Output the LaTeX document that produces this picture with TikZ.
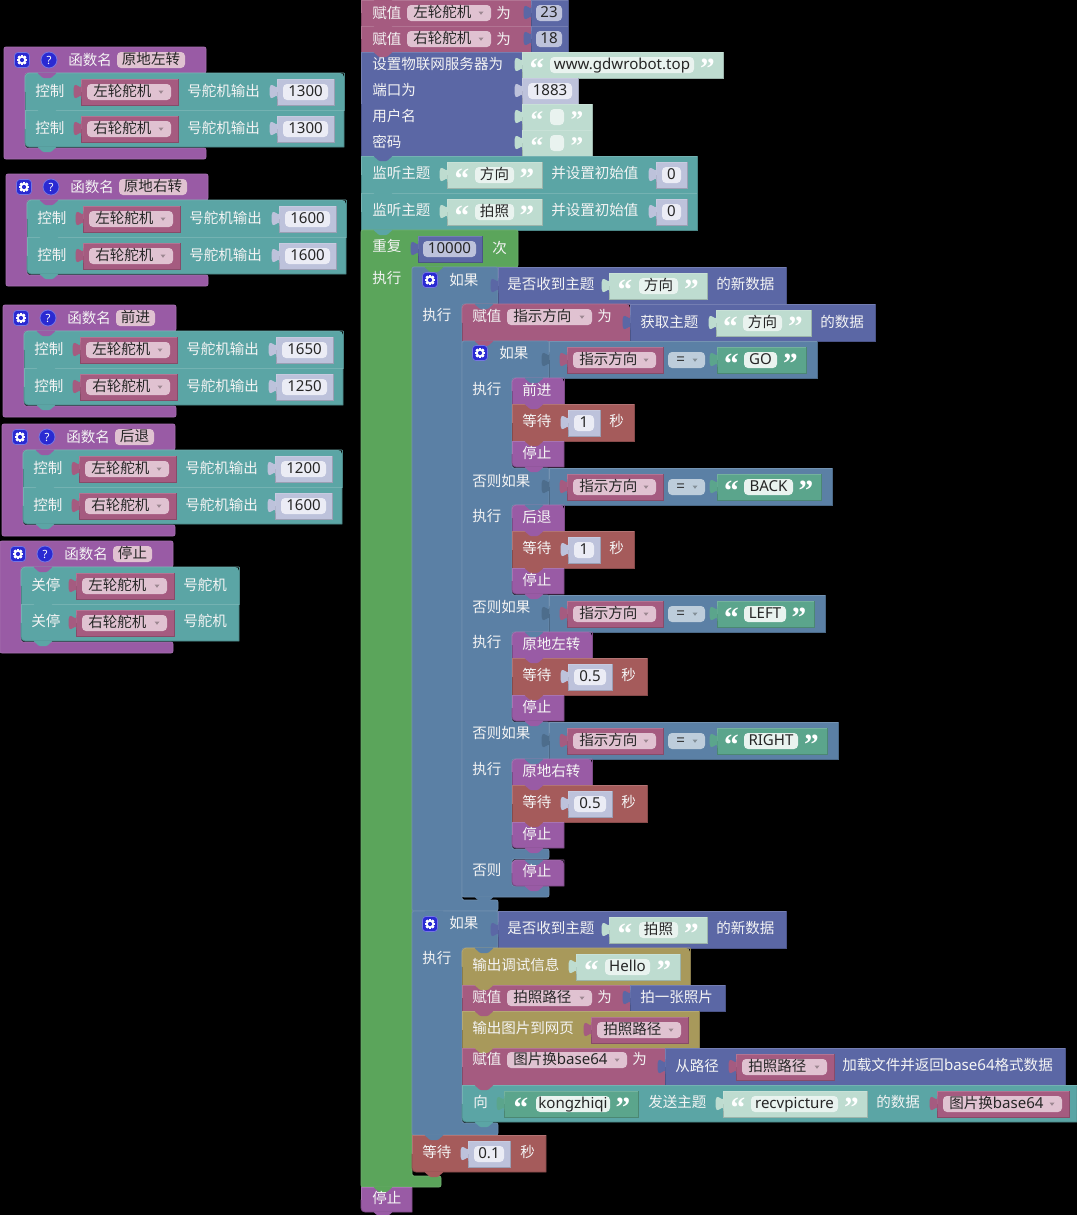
\documentclass[tikz,border=0pt]{standalone}
\usepackage{fontspec}
\newfontfamily\cjf{Noto Sans CJK SC}
\newfontfamily\latf{Noto Sans}
\newfontfamily\quof{Liberation Serif}[BoldFont={Liberation Serif Bold}]
\newcommand\lt[1]{{\latf\fontsize{11.3pt}{12pt}\selectfont\raisebox{.5pt}{#1}}}
\definecolor{cteal}{HTML}{5BA5A5}
\definecolor{cpur}{HTML}{995BA5}
\definecolor{cros}{HTML}{A55B80}
\definecolor{cper}{HTML}{5B67A5}
\definecolor{cste}{HTML}{5B80A5}
\definecolor{cgrn}{HTML}{5BA55B}
\definecolor{cbrn}{HTML}{A55B5B}
\definecolor{coli}{HTML}{A8995B}
\definecolor{cstg}{HTML}{5BA58C}
\definecolor{pstr}{HTML}{BEDCD0}
\definecolor{pnum}{HTML}{BDC2DB}
\definecolor{fvar}{HTML}{E0C2D1}
\definecolor{fstr}{HTML}{E9F3EF}
\definecolor{fnum}{HTML}{EBECF5}
\definecolor{fste}{HTML}{BDCDDB}
\definecolor{ftxt}{HTML}{262626}
\definecolor{labc}{HTML}{F4F4F4}
\definecolor{cblu}{HTML}{2A2AD2}
\newcounter{nd}
\def\qsz{22pt}
\def\qbl{26}
\tikzset{
  lab/.style={anchor=west,inner sep=0pt,text=labc,font=\cjf\fontsize{10.9pt}{12pt}\selectfont,text height=9.6pt,text depth=2.4pt},
  quo/.style={anchor=base,inner sep=0pt,text=white,font=\quof\bfseries\fontsize{\qsz}{23pt}\selectfont}
}
\newcommand\tx[3]{\stepcounter{nd}\node[lab] (n\thend) at (#1,#2+1) {#3};}
\newcommand\fld[5]{\fill[#4,rounded corners=3pt] (#1,#3-8) rectangle (#2,#3+8);
  \stepcounter{nd}\node[lab,anchor=center,text=ftxt] (n\thend) at ({(#1+#2)/2},#3) {#5};}
\newcommand\ddf[5]{\fill[#4,rounded corners=3pt] (#1,#3-8) rectangle (#2,#3+8);
  \stepcounter{nd}\node[lab,text=ftxt] (n\thend) at (#1+6,#3) {#5};
  \fill[#4!70!black] (#2-12.5,#3-1.5) -- (#2-7.5,#3-1.5) -- (#2-10,#3+1.8) -- cycle;}
\newcommand\vtab[3]{\fill[#3] (#1+.5,#2+5) .. controls (#1+.5,#2+15) and (#1-7.5,#2-3) .. (#1-7.5,#2+12.5) .. controls (#1-7.5,#2+28) and (#1+.5,#2+10) .. (#1+.5,#2+20) -- cycle;}
\newcommand\rcx[7]{%
  \fill[#5] (#1,{(#2+#4)/2}) [rounded corners=#6] -- (#1,#2) -- (#3,#2) [sharp corners] -- (#3,#4) [rounded corners=#7] -- (#1,#4) -- cycle;
  \draw[#5!82!black,line width=.6pt] (#3,#2) -- (#3,#4) [rounded corners=#7] -- (#1,#4) -- (#1,{(#2+#4)/2});
  \draw[#5!85!white,line width=.6pt] (#1,{(#2+#4)/2}) [rounded corners=#6] -- (#1,#2) -- (#3,#2);}
\newcommand\notchm[3]{\fill[#3,rounded corners=.8pt] (#1+12,#2-.5) -- (#1+18,#2+5) -- (#1+26,#2+5) -- (#1+32,#2-.5) -- cycle;}
% x1 y1 x2 y2 col prev rtl rbl
\newcommand\blk[8]{\rcx{#1}{#2}{#3}{#4}{#5}{#7}{#8}\notchm{#1}{#2}{#6}\notchm{#1}{#4}{#5}}
\newcommand\valb[4]{\rcx{#1}{#3}{#2}{#3+26}{#4}{0pt}{0pt}\vtab{#1}{#3}{#4}}
% x1 x2 y text : number block
\newcommand\numb[4]{\valb{#1}{#2}{#3}{pnum}\fld{#1+6}{#2-6}{#3+13}{fnum}{\lt{#4}}}
% x1 x2 y text : variable block
\newcommand\varb[4]{\valb{#1}{#2}{#3}{cros}\ddf{#1+6}{#2-7}{#3+13}{fvar}{#4}}
% x1 x2 fx1 fx2 y text col
\newcommand\strg[7]{\valb{#1}{#2}{#5}{#7}\fld{#3}{#4}{#5+13}{fstr}{#6}
  \stepcounter{nd}\node[quo] (n\thend) at ({(#1+#3)/2+1},#5+\qbl) {“};
  \stepcounter{nd}\node[quo] (n\thend) at ({(#2+#4)/2-1},#5+\qbl) {”};}
\newcommand\gear[2]{\fill[cblu,rounded corners=2.5pt,draw=cblu!65!white,line width=.5pt] (#1-7.5,#2-7.5) rectangle (#1+7.5,#2+7.5);
  \foreach \aa in {0,45,...,315}{\fill[white,rotate around={\aa:(#1,#2)}] (#1-1.1,#2-5) rectangle (#1+1.1,#2+5);}
  \fill[white] (#1,#2) circle[radius=4.2];\fill[cblu] (#1,#2) circle[radius=2.1];}
\newcommand\qmark[2]{\fill[cblu,draw=cblu!65!white,line width=.6pt] (#1,#2) circle[radius=8];
  \stepcounter{nd}\node[inner sep=0pt,text=white,font=\latf\bfseries\fontsize{8.5pt}{9pt}\selectfont] (n\thend) at (#1,#2) {?};}
\newcommand\poly[2]{\fill[#1,rounded corners=1.5pt] #2 -- cycle;\draw[#1!88!white,line width=.6pt,rounded corners=1.5pt] #2 -- cycle;}
% x y right fieldtext
\newcommand\proc[4]{\poly{cpur}{(#1,#2) -- (#3,#2) -- (#3,#2+26) -- (#1+21,#2+26) -- (#1+21,#2+101) -- (#3,#2+101) -- (#3,#2+112) -- (#1,#2+112)}
  \gear{#1+18}{#2+13}\qmark{#1+45}{#2+13}\tx{#1+64}{#2+13}{函数名}\fld{#1+113}{#3-21}{#2+13}{fvar}{#4}}
% x y name val prev rt rb
\newcommand\ctrl[7]{\blk{#1}{#2}{#1+319}{#2+37}{cteal}{#5}{#6}{#7}\tx{#1+10}{#2+18}{控制}\varb{#1+56}{#1+153}{#2+6}{#3}\tx{#1+162}{#2+18}{号舵机输出}\numb{#1+252}{#1+309}{#2+6}{#4}}
% y x2 sx2 fx2 text
\newcommand\cmpr[5]{\rcx{549}{#1}{#2}{#1+37}{cste}{0pt}{0pt}\vtab{549}{#1+6}{cste!85!black}\varb{567}{663}{#1+6}{指示方向}
  \ddf{668}{705}{#1+19}{fste}{\,=}\strg{717}{#3}{744}{#4}{#1+6}{\lt{#5}}{cstg}}
% y right numright fieldright val
\newcommand\waitm[5]{\blk{512}{#1}{#2}{#1+37}{cbrn}{cpur}{0pt}{0pt}\tx{522}{#1+17}{等待}\numb{568}{#3}{#1+6}{#5}\tx{#3+9}{#1+17}{秒}}
\newcommand\stopb[3]{\blk{#1}{#2}{#1+52}{#2+26}{cpur}{#3}{0pt}{3pt}\tx{#1+10}{#2+12}{停止}}
\begin{document}
\begin{tikzpicture}[x=0.75pt,y=-0.75pt]
\useasboundingbox (0,0) rectangle (1077,1215);
\fill[black] (0,0) rectangle (1077,1215);
% ---- left procedures
\proc{4}{47}{206}{原地左转}
\ctrl{25}{73}{左轮舵机}{1300}{cpur}{3pt}{0pt}
\ctrl{25}{110}{右轮舵机}{1300}{cteal}{0pt}{3pt}
\proc{6}{174}{208}{原地右转}
\ctrl{27}{200}{左轮舵机}{1600}{cpur}{3pt}{0pt}
\ctrl{27}{237}{右轮舵机}{1600}{cteal}{0pt}{3pt}
\proc{3}{305}{176}{前进}
\ctrl{24}{331}{左轮舵机}{1650}{cpur}{3pt}{0pt}
\ctrl{24}{368}{右轮舵机}{1250}{cteal}{0pt}{3pt}
\proc{2}{424}{175}{后退}
\ctrl{23}{450}{左轮舵机}{1200}{cpur}{3pt}{0pt}
\ctrl{23}{487}{右轮舵机}{1600}{cteal}{0pt}{3pt}
\proc{0}{541}{173}{停止}
\blk{21}{567}{239}{604}{cteal}{cpur}{3pt}{0pt}\tx{31}{585}{关停}\varb{76}{174}{573}{左轮舵机}\tx{183}{585}{号舵机}
\blk{21}{604}{239}{641}{cteal}{cteal}{0pt}{3pt}\tx{31}{621}{关停}\varb{76}{174}{610}{右轮舵机}\tx{183}{621}{号舵机}
% ---- main stack
\blk{361}{0}{531}{26}{cros}{cros}{0pt}{0pt}\tx{372}{13}{赋值}\ddf{407}{491}{13}{fvar}{左轮舵机}\tx{496}{13}{为}
\valb{531}{568}{0}{cper}\fld{536}{562}{13}{pnum}{\lt{23}}
\blk{361}{26}{531}{52}{cros}{cros}{0pt}{0pt}\tx{372}{39}{赋值}\ddf{407}{491}{39}{fvar}{右轮舵机}\tx{496}{39}{为}
\valb{531}{568}{26}{cper}\fld{536}{562}{39}{pnum}{\lt{18}}
\blk{361}{52}{522}{156}{cper}{cros}{0pt}{0pt}
\tx{372}{64}{设置物联网服务器为}\tx{372}{90}{端口为}\tx{372}{116}{用户名}\tx{372}{142}{密码}
\strg{522}{723}{550}{694}{52}{\lt{www.gdwrobot.top}}{pstr}
\numb{522}{578}{78}{1883}
\def\qsz{19pt}\def\qbl{24.5}
\strg{522}{592}{550}{564}{104}{}{pstr}
\strg{522}{592}{550}{564}{130}{}{pstr}
\def\qsz{22pt}\def\qbl{26}
\blk{361}{156}{697}{193}{cteal}{cper}{0pt}{0pt}\tx{372}{173}{监听主题}\strg{447}{542}{475}{514}{162}{方向}{pstr}\tx{551}{173}{并设置初始值}\numb{656}{687}{162}{0}
\blk{361}{193}{697}{230}{cteal}{cteal}{0pt}{0pt}\tx{372}{210}{监听主题}\strg{447}{542}{475}{514}{199}{拍照}{pstr}\tx{551}{210}{并设置初始值}\numb{656}{687}{199}{0}
% repeat
\poly{cgrn}{(361,230) -- (518,230) -- (518,267) -- (412,267) -- (412,1176) -- (441,1176) -- (441,1187) -- (361,1187)}
\notchm{361}{230}{cteal}
\tx{372}{246}{重复}\valb{418}{482}{236}{cper}\fld{423}{476}{249}{pnum}{\lt{10000}}\tx{492}{248}{次}\tx{372}{278}{执行}
% if 1
\poly{cste}{(412,267) -- (498,267) -- (498,304) -- (462,304) -- (462,900) -- (498,900) -- (498,911) -- (412,911)}
\notchm{412}{267}{cgrn}
\gear{430}{280}\tx{449}{280}{如果}\tx{422}{315}{执行}
\rcx{498}{267}{786}{304}{cper}{0pt}{0pt}\vtab{498}{273}{cper}
\tx{507}{284}{是否收到主题}\strg{609}{707}{639}{678}{273}{方向}{pstr}\tx{716}{284}{的新数据}
% assign direction
\blk{462}{304}{630}{341}{cros}{cste}{3pt}{0pt}\tx{472}{316}{赋值}\ddf{507}{592}{317}{fvar}{指示方向}\tx{597}{316}{为}
\rcx{630}{304}{875}{341}{cper}{0pt}{0pt}\vtab{630}{310}{cper}
\tx{640}{322}{获取主题}\strg{716}{811}{743}{782}{310}{方向}{pstr}\tx{820}{322}{的数据}
% inner if
\poly{cste}{(462,341) -- (549,341) -- (549,378) -- (512,378) -- (512,468) -- (549,468) -- (549,505) -- (512,505) -- (512,595) -- (549,595) -- (549,632) -- (512,632) -- (512,722) -- (549,722) -- (549,759) -- (512,759) -- (512,849) -- (549,849) -- (549,859) -- (512,859) -- (512,886) -- (549,886) -- (549,897) -- (462,897)}
\notchm{462}{341}{cros}\notchm{462}{897}{cste}
\gear{480}{353}\tx{499}{353}{如果}
\cmpr{341}{817}{806}{777}{GO}
\tx{472}{389}{执行}
\blk{512}{378}{564}{404}{cpur}{cste}{3pt}{0pt}\tx{522}{390}{前进}
\waitm{404}{634}{600}{594}{1}
\stopb{512}{441}{cbrn}
\tx{472}{481}{否则如果}
\cmpr{468}{832}{821}{793}{BACK}
\tx{472}{516}{执行}
\blk{512}{505}{564}{531}{cpur}{cste}{3pt}{0pt}\tx{522}{517}{后退}
\waitm{531}{634}{600}{594}{1}
\stopb{512}{568}{cbrn}
\tx{472}{607}{否则如果}
\cmpr{595}{825}{814}{786}{LEFT}
\tx{472}{642}{执行}
\blk{512}{632}{592}{658}{cpur}{cste}{3pt}{0pt}\tx{522}{644}{原地左转}
\waitm{658}{647}{612}{606}{0.5}
\stopb{512}{695}{cbrn}
\tx{472}{733}{否则如果}
\cmpr{722}{838}{827}{798}{RIGHT}
\tx{472}{769}{执行}
\blk{512}{759}{592}{785}{cpur}{cste}{3pt}{0pt}\tx{522}{771}{原地右转}
\waitm{785}{647}{612}{606}{0.5}
\stopb{512}{822}{cbrn}
\tx{472}{870}{否则}
\blk{512}{860}{564}{886}{cpur}{cste}{3pt}{3pt}\tx{522}{871}{停止}
% if 2
\poly{cste}{(412,911) -- (498,911) -- (498,948) -- (462,948) -- (462,1123) -- (498,1123) -- (498,1135) -- (412,1135)}
\notchm{412}{911}{cste}\notchm{412}{1135}{cste}
\gear{430}{924}\tx{449}{923}{如果}\tx{422}{958}{执行}
\rcx{498}{911}{786}{948}{cper}{0pt}{0pt}\vtab{498}{917}{cper}
\tx{507}{928}{是否收到主题}\strg{609}{707}{639}{678}{917}{拍照}{pstr}\tx{716}{928}{的新数据}
\blk{462}{948}{690}{985}{coli}{cste}{3pt}{0pt}\tx{472}{965}{输出调试信息}\strg{576}{680}{605}{650}{954}{\lt{Hello}}{pstr}
\blk{462}{985}{630}{1011}{cros}{coli}{0pt}{0pt}\tx{472}{997}{赋值}\ddf{507}{592}{998}{fvar}{拍照路径}\tx{597}{997}{为}
\rcx{630}{985}{725}{1011}{cper}{0pt}{0pt}\vtab{630}{985}{cper}\tx{640}{997}{拍一张照片}
\blk{462}{1011}{699}{1048}{coli}{cros}{0pt}{0pt}\tx{472}{1028}{输出图片到网页}\varb{591}{688}{1017}{拍照路径}
\blk{462}{1048}{665}{1085}{cros}{coli}{0pt}{0pt}\tx{472}{1059}{赋值}\ddf{507}{627}{1060}{fvar}{图片换{\lt{base64}}}\tx{632}{1059}{为}
\rcx{665}{1048}{1065}{1085}{cper}{0pt}{0pt}\vtab{665}{1054}{cper}
\tx{675}{1066}{从路径}\varb{736}{834}{1054}{拍照路径}\tx{842}{1065}{加载文件并返回{\lt{base64}}格式数据}
\blk{462}{1085}{1077}{1122}{cteal}{cros}{0pt}{3pt}\tx{473}{1102}{向}
\strg{504}{638}{536}{610}{1091}{\lt{kongzhiqi}}{cstg}\tx{648}{1102}{发送主题}
\strg{723}{867}{751}{838}{1091}{\lt{recvpicture}}{pstr}\tx{876}{1102}{的数据}
\varb{937}{1069}{1091}{图片换{\lt{base64}}}
% wait 0.1
\blk{412}{1135}{546}{1172}{cbrn}{cste}{0pt}{3pt}\tx{422}{1152}{等待}\numb{468}{510}{1141}{0.1}\tx{520}{1152}{秒}
% final stop
\blk{361}{1187}{412}{1212}{cpur}{cgrn}{0pt}{3pt}\tx{372}{1198}{停止}
\end{tikzpicture}
\end{document}
